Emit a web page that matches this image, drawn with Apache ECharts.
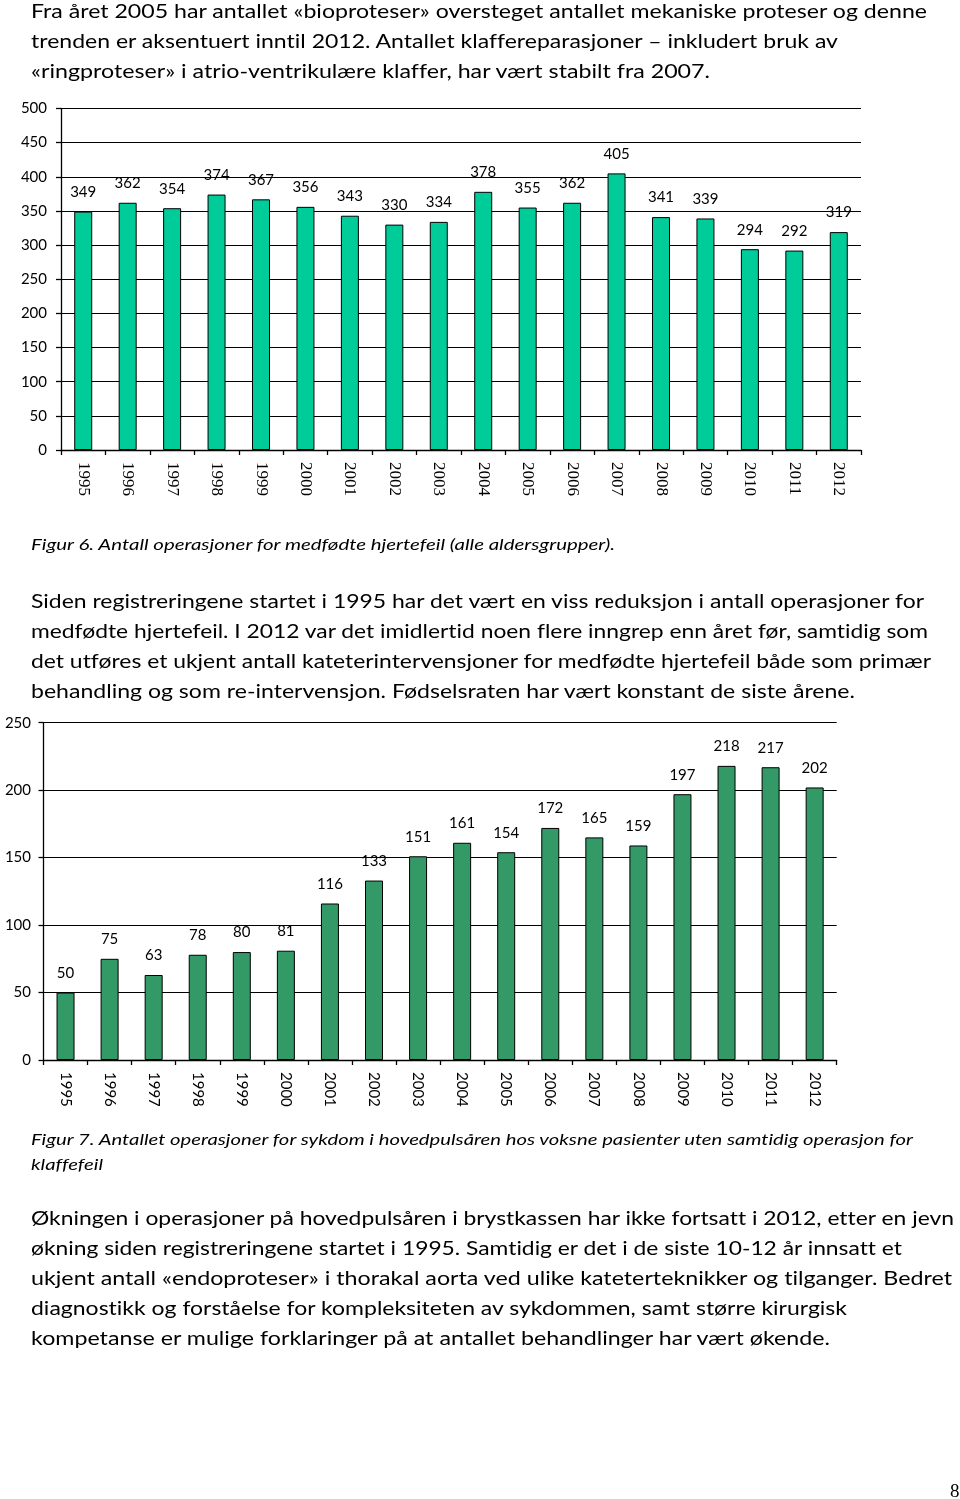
<!DOCTYPE html>
<html>
<head>
<meta charset="utf-8">
<script src="https://cdn.jsdelivr.net/npm/echarts@6/dist/echarts.min.js"></script>
<style>
  html, body { margin: 0; padding: 0; background: #fff; }
  #page { position: relative; width: 960px; height: 1499px; overflow: hidden; }
  #chart { position: absolute; left: 0; top: 0; width: 960px; height: 1499px; }
  #txt { position: absolute; left: 0; top: 0; width: 960px; height: 1499px; pointer-events: none; }
  #txt text { font-variant-ligatures: none; font-feature-settings: "liga" 0, "clig" 0, "dlig" 0; }
</style>
</head>
<body>
<div id="page">
  <div id="chart"></div>
  <svg id="txt" xmlns="http://www.w3.org/2000/svg" width="960" height="1499"></svg>
</div>
<script>
// ---------- DATA ----------
const years = ['1995','1996','1997','1998','1999','2000','2001','2002','2003','2004','2005','2006','2007','2008','2009','2010','2011','2012'];
const congenitalOps = [349,362,354,374,367,356,343,330,334,378,355,362,405,341,339,294,292,319];
const aortaOps = [50,75,63,78,80,81,116,133,151,161,154,172,165,159,197,218,217,202];

const para1 = [
  'Fra året 2005 har antallet «bioproteser» oversteget antallet mekaniske proteser og denne',
  'trenden er aksentuert inntil 2012. Antallet klaffereparasjoner – inkludert bruk av',
  '«ringproteser» i atrio-ventrikulære klaffer, har vært stabilt fra 2007.'
];
const caption6 = ['Figur 6. Antall operasjoner for medfødte hjertefeil (alle aldersgrupper).'];
const para2 = [
  'Siden registreringene startet i 1995 har det vært en viss reduksjon i antall operasjoner for',
  'medfødte hjertefeil. I 2012 var det imidlertid noen flere inngrep enn året før, samtidig som',
  'det utføres et ukjent antall kateterintervensjoner for medfødte hjertefeil både som primær',
  'behandling og som re-intervensjon. Fødselsraten har vært konstant de siste årene.'
];
const caption7 = [
  'Figur 7. Antallet operasjoner for sykdom i hovedpulsåren hos voksne pasienter uten samtidig operasjon for',
  'klaffefeil'
];
const para3 = [
  'Økningen i operasjoner på hovedpulsåren i brystkassen har ikke fortsatt i 2012, etter en jevn',
  'økning siden registreringene startet i 1995. Samtidig er det i de siste 10-12 år innsatt et',
  'ukjent antall «endoproteser» i thorakal aorta ved ulike kateterteknikker og tilganger. Bedret',
  'diagnostikk og forståelse for kompleksiteten av sykdommen, samt større kirurgisk',
  'kompetanse er mulige forklaringer på at antallet behandlinger har vært økende.'
];
const pageNumber = '8';

// ---------- TEXT LAYOUT ----------
const svg = document.getElementById('txt');
const NS = 'http://www.w3.org/2000/svg';
function addLines(lines, baselines, ends, style) {
  lines.forEach((t, i) => {
    const el = document.createElementNS(NS, 'text');
    el.setAttribute('x', 31);
    el.setAttribute('y', baselines[i]);
    el.setAttribute('textLength', ends[i] - 31);
    el.setAttribute('lengthAdjust', 'spacingAndGlyphs');
    el.setAttribute('style', style);
    el.textContent = t;
    svg.appendChild(el);
  });
}
const bodyStyle = 'font-family: Lato, "Open Sans", sans-serif; font-size: 19.5px; fill: #000;';
const capStyle = 'font-family: Lato, "Open Sans", sans-serif; font-style: italic; font-size: 15.5px; fill: #000;';
addLines(para1, [18, 48, 78], [927, 838, 710], bodyStyle);
addLines(caption6, [550], [615], capStyle);
addLines(para2, [608, 638, 668, 698], [924, 928, 931, 855], bodyStyle);
addLines(caption7, [1145, 1170], [913, 103], capStyle);
addLines(para3, [1225, 1255, 1285, 1315, 1345], [954, 902, 952, 847, 830], bodyStyle);
(function () {
  const el = document.createElementNS(NS, 'text');
  el.setAttribute('x', 950);
  el.setAttribute('y', 1497);
  el.setAttribute('style', 'font-family: "Liberation Serif", serif; font-size: 19px; fill: #000;');
  el.textContent = pageNumber;
  svg.appendChild(el);
})();

// ---------- CHARTS ----------
const chart = echarts.init(document.getElementById('chart'));
const sansFont = 'Lato';

function xAxis(gridIndex, font, size) {
  return {
    type: 'category', gridIndex, data: years,
    axisLine: { lineStyle: { color: '#000', width: 1.3 } },
    axisTick: { show: true, length: 5, interval: 0, lineStyle: { color: '#000', width: 1.3 } },
    axisLabel: { interval: 0, rotate: -90, margin: 12, color: '#000', fontFamily: font, fontSize: size }
  };
}
function yAxis(gridIndex, max, margin) {
  return {
    type: 'value', gridIndex, min: 0, max, interval: 50,
    axisLine: { show: true, lineStyle: { color: '#000', width: 1.3 } },
    axisTick: { show: true, length: 5, lineStyle: { color: '#000', width: 1.3 } },
    splitLine: { show: true, lineStyle: { color: '#000', width: 1.2 } },
    axisLabel: { color: '#000', fontFamily: sansFont, fontSize: 15, margin }
  };
}
function barSeries(idx, data, color) {
  return {
    type: 'bar', xAxisIndex: idx, yAxisIndex: idx, data,
    barWidth: 18,
    itemStyle: { color, borderColor: '#000', borderWidth: 1 },
    label: { show: true, position: 'top', distance: 12, color: '#000', fontFamily: sansFont, fontSize: 15 },
    animation: false
  };
}

chart.setOption({
  animation: false,
  grid: [
    { left: 61, top: 108.5, width: 800, height: 341.5 },
    { left: 43.5, top: 722.7, width: 793.2, height: 337.3 }
  ],
  xAxis: [ xAxis(0, '"Liberation Serif", serif', 17), xAxis(1, sansFont, 15) ],
  yAxis: [ yAxis(0, 500, 14), yAxis(1, 250, 12.5) ],
  series: [ barSeries(0, congenitalOps, '#00CC99'), barSeries(1, aortaOps, '#339966') ]
});
</script>
</body>
</html>
